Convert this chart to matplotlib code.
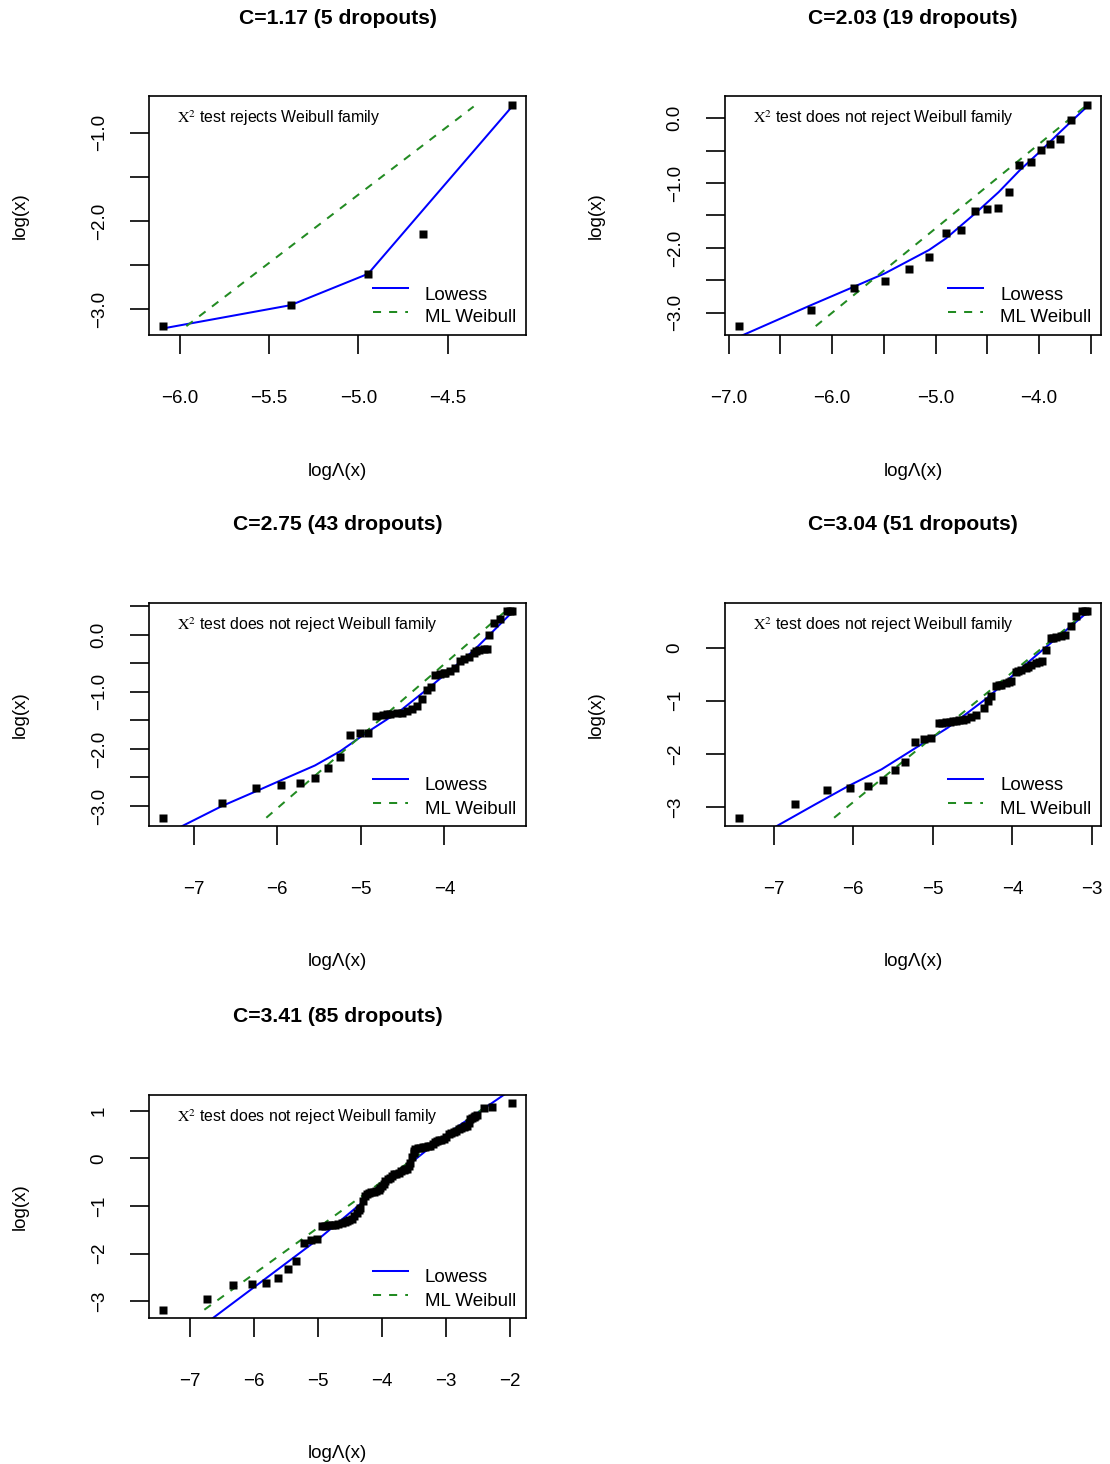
import matplotlib
matplotlib.use('Agg')
import matplotlib.pyplot as plt
from matplotlib.ticker import FixedLocator, FixedFormatter

plt.rcParams['font.family'] = ['Liberation Sans', 'DejaVu Sans']
plt.rcParams['mathtext.fontset'] = 'stix'

# ---------------------------------------------------------------------------
# data (log Lambda(x), log(x))

titles = ['C=1.17 (5 dropouts)', 'C=2.03 (19 dropouts)', 'C=2.75 (43 dropouts)',
          'C=3.04 (51 dropouts)', 'C=3.41 (85 dropouts)']
verdicts = ['rejects', 'does not reject', 'does not reject',
            'does not reject', 'does not reject']

x1 = [-6.095, -5.38, -4.946, -4.638, -4.14]
y1 = [-3.193, -2.955, -2.599, -2.148, -0.682]

x2 = [-6.90, -6.203, -5.79, -5.49, -5.256, -5.063, -4.898, -4.75, -4.615, -4.503,
      -4.394, -4.29, -4.19, -4.08, -3.98, -3.895, -3.80, -3.69, -3.535]
y2 = [-3.205, -2.958, -2.619, -2.506, -2.326, -2.136, -1.770, -1.719, -1.426, -1.404,
      -1.380, -1.133, -0.716, -0.670, -0.489, -0.401, -0.315, -0.026, 0.205]

x3 = [-7.366, -6.66, -6.25, -5.955, -5.724, -5.548, -5.392, -5.245, -5.126, -5.006, -4.914,
      -4.815, -4.735, -4.69, -4.647, -4.567, -4.507, -4.447, -4.388, -4.328, -4.268, -4.208, -4.157,
      -4.109, -4.049, -4.01, -3.989, -3.929, -3.878, -3.818, -3.770, -3.711, -3.651, -3.62, -3.591,
      -3.531, -3.491, -3.463, -3.403, -3.331, -3.251, -3.22, -3.191]
y3 = [-3.205, -2.954, -2.69, -2.638, -2.603, -2.503, -2.328, -2.135, -1.761, -1.726, -1.714,
      -1.427, -1.41, -1.395, -1.381, -1.375, -1.369, -1.34, -1.293, -1.252, -1.123, -0.972, -0.912,
      -0.714, -0.691, -0.68, -0.667, -0.639, -0.591, -0.463, -0.433, -0.386, -0.316, -0.29, -0.275,
      -0.258, -0.246, -0.007, 0.21, 0.268, 0.409, 0.409, 0.409]

x4 = [-7.437, -6.729, -6.333, -6.041, -5.82, -5.633, -5.479, -5.345, -5.22, -5.116, -5.02,
      -4.925, -4.88, -4.833, -4.79, -4.75, -4.71, -4.666, -4.62, -4.583, -4.52, -4.458, -4.354,
      -4.313, -4.27, -4.208, -4.175, -4.145, -4.083, -4.05, -4.02, -3.958, -3.925, -3.895, -3.833,
      -3.80, -3.77, -3.708, -3.665, -3.625, -3.583, -3.52, -3.49, -3.458, -3.395, -3.341, -3.27,
      -3.208, -3.125, -3.09, -3.063]
y4 = [-3.202, -2.951, -2.687, -2.65, -2.612, -2.499, -2.31, -2.147, -1.77, -1.727, -1.708,
      -1.418, -1.41, -1.40, -1.393, -1.387, -1.377, -1.368, -1.355, -1.343, -1.306, -1.262, -1.136,
      -1.011, -0.917, -0.728, -0.712, -0.697, -0.665, -0.645, -0.627, -0.465, -0.445, -0.427, -0.383,
      -0.36, -0.333, -0.289, -0.267, -0.245, -0.038, 0.182, 0.19, 0.201, 0.226, 0.245, 0.414,
      0.603, 0.684, 0.684, 0.684]

x5 = [-7.428, -6.739, -6.331, -6.029, -5.81, -5.627, -5.465, -5.345, -5.215, -5.11, -5.016,
      -4.938, -4.834, -4.729, -4.625, -4.546, -4.468, -4.39, -4.338, -4.26, -4.208, -4.13, -4.052,
      -3.999, -3.946, -3.868, -3.816, -3.738, -3.66, -3.607, -3.555, -3.503, -3.477, -3.398, -3.32,
      -3.242, -3.163, -3.111, -3.033, -2.955, -2.877, -2.798, -2.72, -2.667, -2.615, -2.564, -2.511,
      -4.89, -4.78, -4.68, -4.585, -4.51, -4.43, -4.365, -4.30, -4.232, -4.17, -4.09, -4.025,
      -3.972, -3.905, -3.842, -3.777, -3.70, -3.634, -3.58, -3.529, -3.49, -3.44, -3.36, -3.28,
      -3.20, -3.137, -3.072, -2.994, -2.916, -2.838, -2.759, -2.693, -2.641, -2.59, -2.537,
      -2.407, -2.276, -1.962]
y5 = [-3.179, -2.947, -2.665, -2.632, -2.611, -2.505, -2.316, -2.154, -1.768, -1.718, -1.697,
      -1.424, -1.404, -1.389, -1.354, -1.319, -1.263, -1.143, -1.038, -0.792, -0.722, -0.708, -0.674,
      -0.581, -0.476, -0.406, -0.337, -0.301, -0.244, -0.217, -0.091, 0.12, 0.19, 0.225, 0.24,
      0.261, 0.345, 0.379, 0.4, 0.505, 0.556, 0.611, 0.661, 0.682, 0.821, 0.878, 0.905,
      -1.415, -1.397, -1.372, -1.338, -1.295, -1.21, -1.09, -0.90, -0.755, -0.716, -0.69, -0.63,
      -0.53, -0.44, -0.372, -0.318, -0.272, -0.23, -0.16, 0.02, 0.155, 0.21, 0.232, 0.25,
      0.30, 0.36, 0.39, 0.45, 0.53, 0.585, 0.636, 0.672, 0.75, 0.85, 0.89,
      1.067, 1.088, 1.158]

# lowess fitted curves
lx1 = [-6.095, -5.38, -4.946, -4.638, -4.14]
ly1 = [-3.219, -2.955, -2.599, -1.873, -0.701]
lx2 = [-6.90, -6.203, -5.79, -5.49, -5.063, -4.898, -4.615, -4.39, -4.19, -3.98, -3.80, -3.535]
ly2 = [-3.37, -2.881, -2.599, -2.392, -2.032, -1.852, -1.466, -1.14, -0.81, -0.50, -0.22, 0.179]
lx3 = [-7.366, -6.66, -6.25, -5.955, -5.548, -5.245, -4.914, -4.528, -4.169, -3.89, -3.651, -3.451, -3.191]
ly3 = [-3.52, -3.0, -2.74, -2.55, -2.29, -2.04, -1.70, -1.333, -0.912, -0.574, -0.281, 0.011, 0.391]
lx4 = [-7.437, -6.94, -6.479, -6.062, -5.645, -5.145, -4.812, -4.313, -3.979, -3.562, -3.063]
ly4 = [-3.76, -3.34, -2.951, -2.605, -2.291, -1.821, -1.507, -0.942, -0.502, 0.032, 0.659]
lx5 = [-7.428, -6.66, -4.964, -4.338, -4.025, -3.503, -2.98, -2.067, -1.962]
ly5 = [-4.14, -3.368, -1.663, -0.96, -0.539, -0.048, 0.514, 1.356, 1.47]

# ML Weibull fit (straight line, end points)
wx = [[-5.964, -4.355], [-6.158, -3.535], [-6.13, -3.27], [-6.241, -3.063], [-6.78, -2.3]]
wy = [[-3.193, -0.701], [-3.205, 0.205], [-3.205, 0.409], [-3.202, 0.684], [-3.179, 1.158]]

# ticks: (positions, labels)
xticks = [([-6.0, -5.5, -5.0, -4.5], ['-6.0', '-5.5', '-5.0', '-4.5']),
          ([-7.0, -6.5, -6.0, -5.5, -5.0, -4.5, -4.0, -3.5],
           ['-7.0', '', '-6.0', '', '-5.0', '', '-4.0', '']),
          ([-7, -6, -5, -4], ['-7', '-6', '-5', '-4']),
          ([-7, -6, -5, -4, -3], ['-7', '-6', '-5', '-4', '-3']),
          ([-7, -6, -5, -4, -3, -2], ['-7', '-6', '-5', '-4', '-3', '-2'])]
yticks = [([-3.0, -2.5, -2.0, -1.5, -1.0], ['-3.0', '', '-2.0', '', '-1.0']),
          ([-3.0, -2.5, -2.0, -1.5, -1.0, -0.5, 0.0],
           ['-3.0', '', '-2.0', '', '-1.0', '', '0.0']),
          ([-3.0, -2.5, -2.0, -1.5, -1.0, -0.5, 0.0, 0.5],
           ['-3.0', '', '-2.0', '', '-1.0', '', '0.0', '']),
          ([-3, -2, -1, 0], ['-3', '-2', '-1', '0']),
          ([-3, -2, -1, 0, 1], ['-3', '-2', '-1', '0', '1'])]

# ---------------------------------------------------------------------------

W, H = 1110, 1464
boxes = [(149, 96, 526, 335), (725, 96, 1101, 335),
         (149, 603, 526, 826), (725, 603, 1101, 826),
         (149, 1095, 526, 1318)]

FS = 13.5
LW = 1.45
fig = plt.figure(figsize=(W / 100, H / 100), dpi=100)


def lims(v):
    lo, hi = min(v), max(v)
    r = hi - lo
    return lo - 0.04 * r, hi + 0.04 * r


def panel(i, xs, ys, lx, ly):
    left, top, right, bottom = boxes[i]
    w, h = right - left, bottom - top
    ax = fig.add_axes([left / W, 1 - bottom / H, w / W, h / H])
    ax.plot(lx, ly, color='blue', lw=LW)
    ax.plot(wx[i], wy[i], color='forestgreen', lw=LW, ls=(0, (4, 4)))
    ax.plot(xs, ys, ls='none', marker='s', ms=5.3, color='black', mec='none')
    ax.set_xlim(lims(xs))
    ax.set_ylim(lims(ys))
    xt, xl = xticks[i]
    yt, yl = yticks[i]
    ax.xaxis.set_major_locator(FixedLocator(xt))
    ax.xaxis.set_major_formatter(FixedFormatter([s.replace('-', '\u2212') for s in xl]))
    ax.yaxis.set_major_locator(FixedLocator(yt))
    ax.yaxis.set_major_formatter(FixedFormatter([s.replace('-', '\u2212') for s in yl]))
    ax.tick_params(direction='out', length=13.7, width=1.2, labelsize=FS)
    ax.tick_params(axis='x', pad=26)
    ax.tick_params(axis='y', pad=16)
    plt.setp(ax.get_yticklabels(), rotation=90, va='center')
    for s in ax.spines.values():
        s.set_linewidth(1.2)

    # legend, no frame
    ax.plot([1 - 153 / w, 1 - 118 / w], [47 / h, 47 / h], color='blue', lw=LW,
            transform=ax.transAxes, clip_on=False)
    ax.plot([1 - 153 / w, 1 - 118 / w], [23.5 / h, 23.5 / h], color='forestgreen',
            lw=LW, ls=(0, (4, 4)), transform=ax.transAxes, clip_on=False)
    ax.text(1 - 101 / w, 40 / h, 'Lowess', transform=ax.transAxes,
            fontsize=FS, va='center')
    ax.text(1 - 101 / w, 17 / h, 'ML Weibull', transform=ax.transAxes,
            fontsize=FS, va='center')
    ax.text(28 / w, 1 - 22 / h,
            r'$\mathrm{X}^2$ test %s Weibull family' % verdicts[i],
            transform=ax.transAxes, fontsize=11.4, va='center')

    cx = (left + right) / 2
    fig.text(cx / W, 1 - (top - 78) / H, titles[i], ha='center', va='center',
             fontsize=15.2, fontweight='bold')
    fig.text(cx / W, 1 - (bottom + 136) / H, 'log\u039b(x)', ha='center',
             va='center', fontsize=FS)
    fig.text((left - 129) / W, 1 - (top + bottom) / 2 / H, 'log(x)', ha='center',
             va='center', rotation=90, fontsize=FS)
    return ax


panel(0, x1, y1, lx1, ly1)
panel(1, x2, y2, lx2, ly2)
panel(2, x3, y3, lx3, ly3)
panel(3, x4, y4, lx4, ly4)
panel(4, x5, y5, lx5, ly5)

fig.savefig('out.png', dpi=100, facecolor='white')
